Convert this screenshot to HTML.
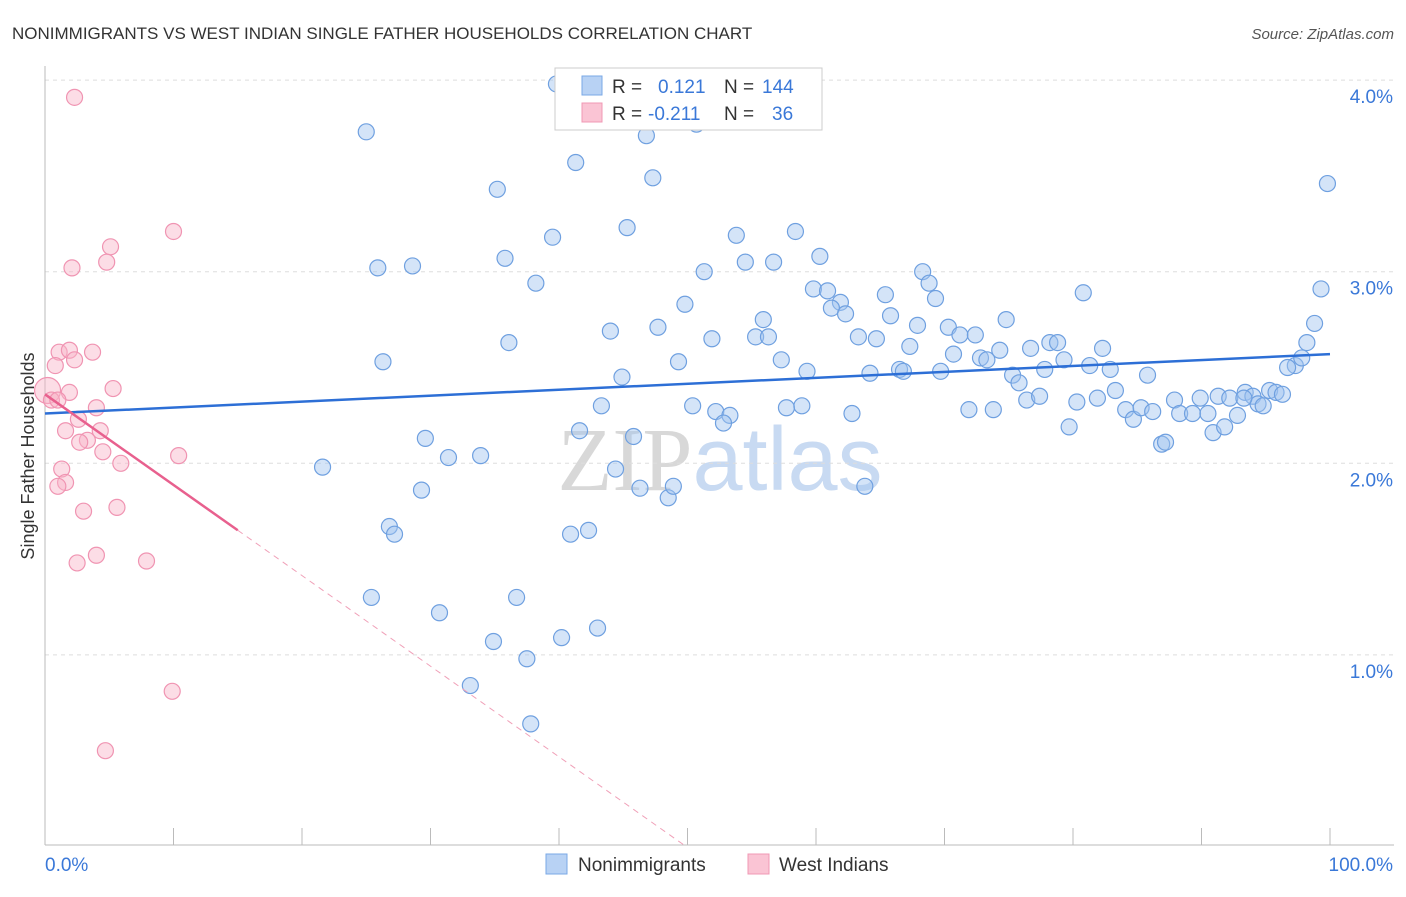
<!DOCTYPE html>
<html><head><meta charset="utf-8">
<style>
body{margin:0;background:#fff;font-family:"Liberation Sans",sans-serif;}
svg text{font-family:"Liberation Sans",sans-serif;}
</style></head>
<body>
<svg id="chart" width="1406" height="892" xmlns="http://www.w3.org/2000/svg">
<text x="12" y="39" font-size="17" fill="#333">NONIMMIGRANTS VS WEST INDIAN SINGLE FATHER HOUSEHOLDS CORRELATION CHART</text>
<text x="1394" y="39" font-size="15" fill="#555" text-anchor="end" font-style="italic">Source: ZipAtlas.com</text>
<text x="720" y="490" font-size="90" text-anchor="middle"><tspan fill="#d8d8d8" font-family="Liberation Serif">ZIP</tspan><tspan fill="#c8daf2">atlas</tspan></text>
<text transform="translate(34,456) rotate(-90)" font-size="18" fill="#333" text-anchor="middle">Single Father Households</text>
<g id="grid"></g>
<g id="marks"></g>
<g>
<rect x="555" y="68" width="267" height="62" fill="#fff" stroke="#ccc"/>
<rect x="582" y="76" width="20" height="19" fill="#b8d2f4" stroke="#7aa8e6"/>
<rect x="582" y="103" width="20" height="19" fill="#fac4d4" stroke="#f098b4"/>
<text x="612" y="93" font-size="19" fill="#333">R =</text>
<text x="658" y="93" font-size="19" fill="#3a78d8">0.121</text>
<text x="724" y="93" font-size="19" fill="#333">N =</text>
<text x="762" y="93" font-size="19" fill="#3a78d8">144</text>
<text x="612" y="120" font-size="19" fill="#333">R =</text>
<text x="648" y="120" font-size="19" fill="#3a78d8">-0.211</text>
<text x="724" y="120" font-size="19" fill="#333">N =</text>
<text x="772" y="120" font-size="19" fill="#3a78d8">36</text>
</g>
<g>
<rect x="546" y="854" width="21" height="20" fill="#b8d2f4" stroke="#7aa8e6"/>
<text x="578" y="871" font-size="19" fill="#333">Nonimmigrants</text>
<rect x="748" y="854" width="21" height="20" fill="#fac4d4" stroke="#f098b4"/>
<text x="779" y="871" font-size="19" fill="#333">West Indians</text>
</g>
</svg>
<script>
const xTickLabels=["0.0%","100.0%"];
const yTicks=[1,2,3,4];
const yTickLabels=["1.0%","2.0%","3.0%","4.0%"];
const blueX=[39.8,25.0,50.7,46.8,41.3,47.3,35.2,99.8,45.3,39.5,53.8,58.4,25.9,28.6,35.8,54.5,56.7,51.3,60.3,68.3,38.2,59.8,60.9,80.8,99.3,65.4,68.8,69.3,49.8,61.9,61.2,62.3,65.8,44.0,47.7,51.9,55.9,55.3,56.3,67.9,70.3,71.2,72.4,74.8,98.8,36.1,26.3,63.3,64.7,67.3,70.7,72.8,74.3,76.7,78.2,78.8,82.3,98.2,49.3,57.3,59.3,64.2,66.5,66.8,69.7,73.3,75.3,75.8,77.8,79.3,81.3,82.9,85.8,83.3,97.3,97.8,96.7,44.9,43.3,50.4,52.2,53.3,57.7,58.9,62.8,71.9,73.8,76.4,77.4,80.3,81.9,84.1,84.7,85.3,86.2,87.9,88.3,89.3,89.9,90.5,91.3,92.2,93.4,94.0,94.4,94.8,95.3,95.8,96.3,93.3,92.8,79.7,86.9,87.2,90.9,91.8,52.8,41.6,45.8,29.6,31.4,33.9,21.6,44.4,29.3,46.3,48.5,48.9,63.8,26.8,27.2,40.9,42.3,25.4,36.7,30.7,43.0,34.9,40.2,37.5,33.1,37.8];
const blueY=[3.98,3.73,3.77,3.71,3.57,3.49,3.43,3.46,3.23,3.18,3.19,3.21,3.02,3.03,3.07,3.05,3.05,3.00,3.08,3.00,2.94,2.91,2.90,2.89,2.91,2.88,2.94,2.86,2.83,2.84,2.81,2.78,2.77,2.69,2.71,2.65,2.75,2.66,2.66,2.72,2.71,2.67,2.67,2.75,2.73,2.63,2.53,2.66,2.65,2.61,2.57,2.55,2.59,2.60,2.63,2.63,2.60,2.63,2.53,2.54,2.48,2.47,2.49,2.48,2.48,2.54,2.46,2.42,2.49,2.54,2.51,2.49,2.46,2.38,2.51,2.55,2.50,2.45,2.30,2.30,2.27,2.25,2.29,2.30,2.26,2.28,2.28,2.33,2.35,2.32,2.34,2.28,2.23,2.29,2.27,2.33,2.26,2.26,2.34,2.26,2.35,2.34,2.37,2.35,2.31,2.30,2.38,2.37,2.36,2.34,2.25,2.19,2.10,2.11,2.16,2.19,2.21,2.17,2.14,2.13,2.03,2.04,1.98,1.97,1.86,1.87,1.82,1.88,1.88,1.67,1.63,1.63,1.65,1.30,1.30,1.22,1.14,1.07,1.09,0.98,0.84,0.64];
const pinkX=[2.3,10.0,5.1,4.8,2.1,1.1,1.9,3.7,2.3,0.8,5.3,1.9,0.2,0.5,1.0,4.0,2.6,1.6,4.3,3.3,2.7,4.5,5.9,10.4,1.3,1.6,1.0,5.6,3.0,4.0,7.9,2.5,9.9,4.7];
const pinkY=[3.91,3.21,3.13,3.05,3.02,2.58,2.59,2.58,2.54,2.51,2.39,2.37,2.38,2.33,2.33,2.29,2.23,2.17,2.17,2.12,2.11,2.06,2.00,2.04,1.97,1.90,1.88,1.77,1.75,1.52,1.49,1.48,0.81,0.50];
const blueTrend=[2.26,2.57];
const pinkTrend=[2.36,-0.0473];
const NS="http://www.w3.org/2000/svg";
const X0=45,X1=1330,YB=846.5,YPX=191.6;
function sx(v){return X0+(X1-X0)*v/100;}
function sy(v){return YB-v*YPX;}
function mk(tag,attrs,parent){const e=document.createElementNS(NS,tag);for(const k in attrs)e.setAttribute(k,attrs[k]);parent.appendChild(e);return e;}
const grid=document.getElementById('grid');
const marks=document.getElementById('marks');
yTicks.forEach((t,i)=>{
  const l=mk('line',{x1:X0,x2:1394,y1:sy(t),y2:sy(t),stroke:'#ddd','stroke-dasharray':'4,4'},grid);
  
  
  const tx=mk('text',{x:1393,y:sy(t)+23,'font-size':19,fill:'#3a78d8','text-anchor':'end'},grid);
  tx.textContent=yTickLabels[i];
  
  
});
const ax=mk('line',{x1:X0,x2:1394,y1:845,y2:845,stroke:'#bbb'},grid);


const ay=mk('line',{x1:X0,x2:X0,y1:66,y2:845,stroke:'#bbb'},grid);


for(let i=0;i<=10;i++){
  const t=mk('line',{x1:sx(i*10),x2:sx(i*10),y1:828,y2:845,stroke:'#bbb'},grid);
  
  
}
[[0,'start',X0],[100,'end',1393]].forEach((d,i)=>{
  const t=mk('text',{x:d[2],y:871,'font-size':19,fill:'#3a78d8','text-anchor':d[1]},grid);
  t.textContent=xTickLabels[i];
  
  
});
blueX.forEach((x,i)=>{
  const c=mk('circle',{cx:sx(x),cy:sy(blueY[i]),r:8,fill:'rgba(160,196,240,0.45)',stroke:'#6fa0e0','stroke-width':1.2},marks);
  
  
});
pinkX.forEach((x,i)=>{
  const c=mk('circle',{cx:sx(x),cy:sy(pinkY[i]),r:(i==12?13:8),fill:'rgba(248,180,200,0.45)',stroke:'#f094b2','stroke-width':1.2},marks);
  
  
});
const bl=mk('line',{x1:sx(0),y1:sy(blueTrend[0]),x2:sx(100),y2:sy(blueTrend[1]),stroke:'#2d6fd6','stroke-width':2.5},marks);


const pEnd=15, pZero=-pinkTrend[0]/pinkTrend[1];
const pl=mk('line',{x1:sx(0),y1:sy(pinkTrend[0]),x2:sx(pEnd),y2:sy(pinkTrend[0]+pinkTrend[1]*pEnd),stroke:'#e8608e','stroke-width':2.5},marks);


const pd=mk('line',{x1:sx(pEnd),y1:sy(pinkTrend[0]+pinkTrend[1]*pEnd),x2:sx(pZero),y2:sy(0),stroke:'#f0a0b8','stroke-width':1,'stroke-dasharray':'6,5'},marks);


</script>
</body></html>
